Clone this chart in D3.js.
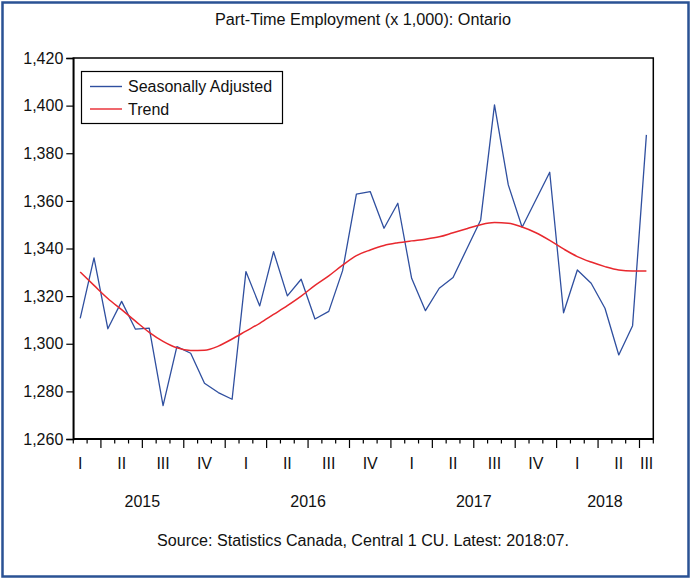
<!DOCTYPE html>
<html>
<head>
<meta charset="utf-8">
<script src="https://cdn.jsdelivr.net/npm/d3@7/dist/d3.min.js"></script>
<style>
  html, body { margin: 0; padding: 0; background: #fff; }
  svg { display: block; }
  text { font-family: "Liberation Sans", Arial, sans-serif; fill: #111; }
</style>
</head>
<body>
<svg id="chart" width="691" height="579"></svg>
<script>
// ---- data ----
const months = [
  "2015-02","2015-03","2015-04","2015-05","2015-06","2015-07","2015-08","2015-09","2015-10","2015-11","2015-12",
  "2016-01","2016-02","2016-03","2016-04","2016-05","2016-06","2016-07","2016-08","2016-09","2016-10","2016-11","2016-12",
  "2017-01","2017-02","2017-03","2017-04","2017-05","2017-06","2017-07","2017-08","2017-09","2017-10","2017-11","2017-12",
  "2018-01","2018-02","2018-03","2018-04","2018-05","2018-06","2018-07"
];
const seasonallyAdjusted = [
  1310.7, 1336.1, 1306.3, 1317.8, 1306.1, 1306.6, 1274.0, 1298.8, 1296.0, 1283.4, 1279.5,
  1276.7, 1330.3, 1315.9, 1338.7, 1320.1, 1327.1, 1310.4, 1313.6, 1330.7, 1362.8, 1363.9, 1348.5,
  1359.0, 1327.5, 1313.9, 1323.3, 1327.8, 1339.9, 1352.0, 1400.3, 1366.7, 1348.9, 1360.5, 1372.0,
  1313.0, 1331.0, 1325.4, 1314.9, 1295.3, 1307.6, 1387.7
];
const trend = [
  1330.1, 1324.5, 1319.0, 1314.3, 1309.5, 1304.8, 1301.0, 1298.3, 1297.2, 1297.3, 1299.0,
  1302.0, 1305.3, 1308.6, 1312.3, 1316.0, 1320.0, 1324.5, 1328.5, 1333.0, 1337.0, 1339.4, 1341.3,
  1342.4, 1343.2, 1343.9, 1344.9, 1346.6, 1348.3, 1350.0, 1350.9, 1350.6, 1349.0, 1346.6, 1343.4,
  1339.8, 1336.6, 1334.3, 1332.4, 1331.0, 1330.6, 1330.6
];
const yTicks = [1260, 1280, 1300, 1320, 1340, 1360, 1380, 1400, 1420];
const quarterNames = ["I", "II", "III", "IV"];
const seriesNames = ["Seasonally Adjusted", "Trend"];
const titleText = "Part-Time Employment (x 1,000): Ontario";
const sourceText = "Source: Statistics Canada, Central 1 CU. Latest: 2018:07.";

// ---- layout ----
const svg = d3.select("#chart");
const L = 73.3, R = 653.3, T = 58, B = 439;
const blue = "#2f4f9f", red = "#e8282e";
const FS = "16px";

// frame
svg.append("rect").attr("x", 2.5).attr("y", 2.5).attr("width", 686).attr("height", 574)
  .attr("fill", "none").attr("stroke", "#2a5294").attr("stroke-width", 2.5);

const x = d3.scaleLinear().domain([0, months.length]).range([L, R]);
const y = d3.scaleLinear().domain([1260, 1420]).range([B, T]);
const xi = i => x(i + 0.5);

// title
svg.append("text").attr("x", 363).attr("y", 25).attr("text-anchor", "middle")
  .style("font-size", FS).attr("textLength", 296).attr("lengthAdjust", "spacingAndGlyphs")
  .text(titleText);

// plot frame
svg.append("rect").attr("x", L).attr("y", T).attr("width", R - L).attr("height", B - T)
  .attr("fill", "none").attr("stroke", "#000").attr("stroke-width", 1.5);

// y axis
const yAxis = d3.axisLeft(y).tickValues(yTicks).tickSize(7).tickPadding(3)
  .tickFormat(d3.format(","));
const gy = svg.append("g").attr("transform", `translate(${L},0)`).call(yAxis);
gy.select(".domain").attr("stroke", "#000").attr("stroke-width", 1.5);
gy.selectAll(".tick line").attr("stroke", "#000").attr("stroke-width", 1.2);
gy.selectAll(".tick text").style("font-size", FS).attr("fill", "#111")
  .style("font-family", '"Liberation Sans", Arial, sans-serif');

// x axis ticks (month boundaries), long at quarter ends
const parsed = months.map(s => ({ year: +s.slice(0, 4), month: +s.slice(5, 7) }));
const tickKs = d3.range(0, months.length + 1);
const gx = svg.append("g");
gx.append("line").attr("x1", L).attr("x2", R).attr("y1", B).attr("y2", B)
  .attr("stroke", "#000").attr("stroke-width", 2);
gx.selectAll("line.t").data(tickKs).join("line").attr("class", "t")
  .attr("x1", k => x(k)).attr("x2", k => x(k))
  .attr("y1", B).attr("y2", k => {
    const idx = k - 1; // month ending at this boundary
    const m = idx >= 0 ? parsed[idx].month : parsed[0].month - 1;
    return (m % 3 === 0 && k > 0 && k < months.length) ? B + 9 : B + 4.5;
  })
  .attr("stroke", "#000").attr("stroke-width", 1.2);

// quarter labels
const quarters = [];
parsed.forEach((p, i) => {
  const q = Math.floor((p.month - 1) / 3);
  const key = p.year + "Q" + q;
  if (!quarters.length || quarters[quarters.length - 1].key !== key) {
    const startK = i - ((p.month - 1) % 3);
    quarters.push({ key, q, startK });
  }
});
gx.selectAll("text.q").data(quarters).join("text").attr("class", "q")
  .attr("y", 469).attr("text-anchor", "middle").style("font-size", FS)
  .text(d => quarterNames[d.q])
  .each(function (d) {
    const w = this.getComputedTextLength();
    let cx = x(d.startK + 1.5);
    cx = Math.max(L + w / 2, Math.min(R - w / 2, cx));
    d3.select(this).attr("x", cx);
  });

// year labels
const years = Array.from(new Set(parsed.map(p => p.year)));
gx.selectAll("text.yr").data(years).join("text").attr("class", "yr")
  .attr("y", 507).attr("text-anchor", "middle").style("font-size", FS)
  .attr("x", yr => {
    const i0 = parsed.findIndex(p => p.year === yr);
    const startK = i0 - (parsed[i0].month - 1);
    const endK = Math.min(startK + 12, months.length);
    return x((startK + endK) / 2);
  })
  .text(yr => yr);

// lines
const lineGen = d3.line().x((d, i) => xi(i)).y(d => y(d));
svg.append("path").datum(seasonallyAdjusted).attr("d", lineGen)
  .attr("fill", "none").attr("stroke", blue).attr("stroke-width", 1.3).attr("stroke-linejoin", "round");
svg.append("path").datum(trend).attr("d", lineGen.curve(d3.curveMonotoneX))
  .attr("fill", "none").attr("stroke", red).attr("stroke-width", 1.5);

// legend
const lg = svg.append("g");
lg.append("rect").attr("x", 81.5).attr("y", 71.5).attr("width", 201).attr("height", 52)
  .attr("fill", "#fff").attr("stroke", "#000").attr("stroke-width", 1.2);
[blue, red].forEach((c, j) => {
  const yy = 86.5 + j * 22.5;
  lg.append("line").attr("x1", 90).attr("x2", 122).attr("y1", yy).attr("y2", yy)
    .attr("stroke", c).attr("stroke-width", 1.4);
  lg.append("text").attr("x", 128).attr("y", yy + 5.5).style("font-size", FS).text(seriesNames[j]);
});

// source
svg.append("text").attr("x", 363).attr("y", 546).attr("text-anchor", "middle")
  .style("font-size", FS).attr("textLength", 412).attr("lengthAdjust", "spacingAndGlyphs")
  .text(sourceText);
</script>
</body>
</html>
